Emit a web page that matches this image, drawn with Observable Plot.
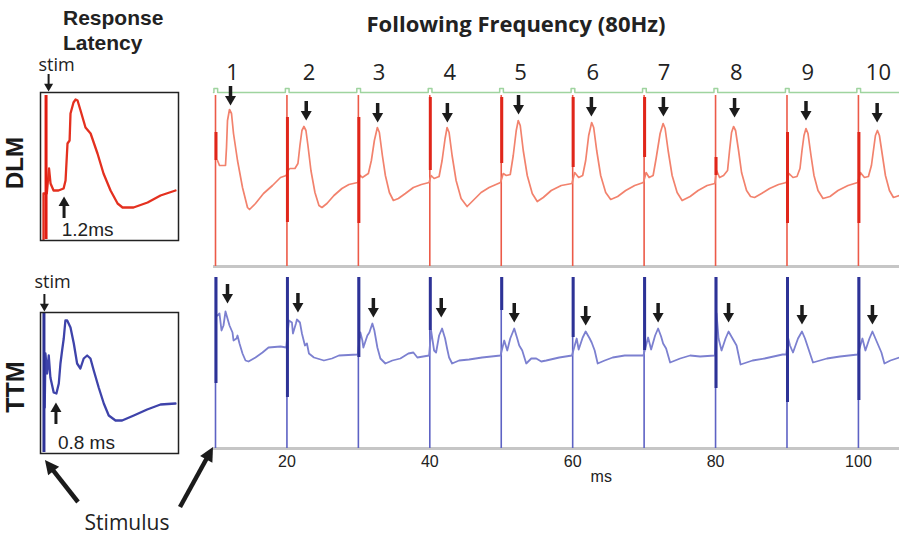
<!DOCTYPE html>
<html><head><meta charset="utf-8">
<script src="https://cdn.jsdelivr.net/npm/d3@7"></script>
<script src="https://cdn.jsdelivr.net/npm/@observablehq/plot@0.6"></script>
<style>
body{margin:0;background:#fff;}
#root{position:relative;width:899px;height:534px;overflow:hidden;font-family:"Liberation Sans",Arial,sans-serif;color:#222;}
.t{position:absolute;white-space:nowrap;line-height:1;}
</style></head><body><div id="root"></div>
<script>
// ---------- data (time in ms, amplitude in arbitrary units) ----------
const stimTimes = [10, 20, 30, 40, 50, 60, 70, 80, 90, 100];
const cycleLabels = ["1","2","3","4","5","6","7","8","9","10"];
const cycleLabelT = [12.4, 23.1, 32.9, 42.8, 52.7, 62.8, 72.8, 82.9, 92.9, 102.8];
const xTicks = [20, 40, 60, 80, 100];

const dlmTrace = [
 [10.28,106],[10.56,101],[11.26,101],[11.40,101],[11.54,119],[11.68,146],[11.96,157],[12.24,153],[12.52,133],[13.08,106],[13.78,79],[14.48,59],[14.76,57],[15.60,63],[16.72,73],[17.98,81],[19.10,89],[19.9,91],
 [20.14,96],[20.42,98],[21.12,98],[21.54,103],[21.82,121],[22.10,136],[22.38,140],[22.66,136],[22.94,121],[23.36,96],[23.92,74],[24.48,61],[24.90,59],[25.60,63],[26.58,71],[27.70,78],[28.68,82],[29.9,84],
 [30.28,91],[30.56,89],[31.40,93],[31.82,106],[32.24,126],[32.66,139],[32.94,134],[33.36,111],[33.78,91],[34.34,74],[34.90,66],[35.60,68],[36.58,73],[37.70,79],[38.82,82],[39.9,84],
 [40.18,91],[40.60,88],[41.30,90],[41.72,106],[42.14,128],[42.42,139],[42.70,134],[43.12,111],[43.68,86],[44.38,68],[45.22,60],[46.06,66],[47.18,74],[48.30,79],[49.9,84],
 [50.28,93],[50.70,91],[51.26,92],[51.68,111],[52.10,136],[52.38,146],[52.66,141],[53.08,116],[53.64,91],[54.34,73],[55.04,65],[55.88,69],[57.00,76],[58.40,81],[59.9,83],
 [60.28,94],[60.84,89],[61.40,91],[61.82,106],[62.24,131],[62.66,144],[62.94,139],[63.36,116],[63.92,91],[64.62,74],[65.32,67],[66.30,70],[67.42,76],[68.68,81],[69.9,84],
 [70.28,94],[70.70,89],[71.26,91],[71.68,108],[72.24,133],[72.66,143],[72.94,138],[73.36,116],[73.92,91],[74.62,74],[75.32,66],[76.44,70],[77.56,76],[78.82,81],[79.9,83],
 [80.14,96],[80.56,89],[81.12,91],[81.68,96],[81.96,116],[82.24,134],[82.52,140],[82.80,136],[83.22,116],[83.64,94],[84.34,76],[84.90,70],[85.46,69],[86.44,73],[87.56,78],[88.82,82],[89.9,84],
 [90.28,93],[90.84,89],[91.40,90],[91.82,98],[92.10,116],[92.38,131],[92.66,138],[92.94,133],[93.36,111],[93.78,91],[94.34,76],[95.04,68],[96.02,70],[97.14,76],[98.54,81],[99.9,84],
 [100.28,94],[100.84,89],[101.40,90],[101.82,101],[102.10,116],[102.38,131],[102.66,136],[102.94,131],[103.36,111],[103.78,91],[104.34,76],[104.90,69],[105.74,71]
];

const ttmTrace = [
 [10.28,133],[10.56,135],[10.84,118],[11.12,123],[11.40,137],[11.68,130],[11.96,123],[12.38,116],[12.52,108],[12.94,110],[13.08,113],[13.36,105],[13.78,95],[14.20,88],[14.62,87],[15.60,91],[16.58,96],[17.42,101],[19.10,102],[19.9,101],
 [20.28,128],[20.70,126],[20.84,115],[21.26,125],[21.40,129],[21.82,126],[22.10,115],[22.52,103],[22.80,105],[23.08,95],[23.78,91],[25.18,88],[26.30,90],[27.28,93],[29.9,94],
 [30.28,116],[30.56,108],[30.70,101],[31.26,113],[31.54,116],[31.96,125],[32.24,118],[32.66,101],[33.08,90],[33.78,85],[34.76,88],[35.88,90],[37.00,95],[37.70,96],[38.26,91],[39.9,93],
 [40.18,118],[40.60,98],[40.88,96],[41.30,113],[41.72,120],[42.14,110],[42.42,100],[42.70,91],[43.12,85],[44.10,88],[45.50,89],[47.32,91],[49.9,93],
 [50.42,108],[50.84,98],[51.26,110],[51.82,120],[52.24,110],[52.52,103],[52.94,98],[53.50,85],[54.20,90],[54.90,90],[55.60,87],[56.30,88],[58.12,91],[59.9,93],
 [60.56,110],[60.84,99],[61.40,111],[61.82,117],[62.38,110],[62.66,106],[63.08,98],[63.50,85],[64.48,88],[65.60,91],[67.28,93],[69.9,93],
 [70.56,111],[70.98,99],[71.54,113],[71.96,120],[72.38,112],[72.66,105],[73.08,100],[73.64,86],[74.34,88],[75.04,90],[76.44,93],[77.84,92],[79.9,93],
 [80.14,135],[80.42,110],[80.84,98],[81.40,110],[81.82,117],[82.38,110],[82.94,103],[83.50,84],[84.34,86],[85.18,88],[86.86,90],[89.38,94],[89.9,94],
 [90.14,111],[90.42,103],[90.84,96],[91.54,110],[92.10,117],[92.52,110],[92.94,101],[93.64,86],[94.62,88],[95.60,90],[97.42,92],[99.9,94],
 [100.56,110],[100.98,98],[101.54,110],[101.96,117],[102.38,110],[102.80,103],[103.22,96],[103.64,85],[104.48,88],[105.74,91]
];

// stimulus artifacts
const artifactTop = 171;
const dlmArtifactLo = [106, 44, 43, 96, 103, 99, 109, 91, 43, 43];
const dlmArtifactHi = [134, 149, 149, 169, 169, 169, 169, 109, 134, 134];
const ttmArtifactLo = [65, 51, 91, 118, 138, 111, 98, 60, 46, 48];
const ttmArtifactHi = [171, 171, 171, 171, 171, 171, 171, 171, 171, 171];
const stimMarkerLevel = 174;

// arrows marking each response peak
const dlmArrowT = [12.1, 22.7, 32.7, 42.46, 52.42, 62.62, 72.7, 82.66, 92.66, 102.62];
const dlmArrowV = [161, 146, 144, 144, 152, 150, 150, 149, 146, 144];
const ttmArrowT = [11.68, 21.54, 32.1, 41.6, 51.82, 61.82, 71.96, 81.82, 92.1, 101.96];
const ttmArrowV = [145, 136, 131, 131, 126, 123, 126, 126, 124, 124];

// response-latency insets (time from stimulus, ms)
const insetDlm = [
 [-0.17,1],[-0.17,47],[0.05,47],[0.2,72],[0.3,57],[0.5,50],[0.83,50],[1.17,52],[1.3,60],[1.43,97],[1.57,100],[1.63,127],[1.83,138],[1.97,141],[2.1,140],[2.3,130],[2.63,113],[2.97,107],[3.43,87],[3.83,67],[4.3,50],[4.77,37],[5.1,33],[5.83,33],[6.77,38],[7.63,45],[8.63,50]
];
const insetTtm = [
 [0.05,46],[0.1,100],[0.21,80],[0.32,98],[0.43,76],[0.65,61],[0.83,60],[0.99,70],[1.1,90],[1.21,103],[1.32,115],[1.43,133],[1.55,133],[1.77,126],[1.99,110],[2.21,90],[2.43,85],[2.65,95],[2.88,98],[3.1,95],[3.32,83],[3.65,66],[3.99,50],[4.32,38],[4.77,33],[5.21,33],[5.99,38],[6.88,44],[7.77,49],[8.77,50]
];
const insetDlmSpikeTop = 145, insetTtmSpikeTop = 140;
const latencyPanels = ["DLM", "TTM"];
const latencyMs = [1.2, 0.8];
const latencyLabels = ["1.2ms", "0.8 ms"];

// ---------- helpers ----------
const root = document.getElementById("root");
function put(el, left, top) {
  el.style.position = "absolute"; el.style.left = left + "px"; el.style.top = top + "px";
  root.appendChild(el); return el;
}
function label(text, x, y, css) {
  const d = document.createElement("div");
  d.className = "t"; d.textContent = text;
  Object.assign(d.style, {left: x + "px", top: y + "px", transform: "translate(-50%,-50%)"}, css || {});
  root.appendChild(d); return d;
}
const INK = "#1b1b1b";
function arrowMarks(tips, dir, {len = 19, W = 11, sw = 3.5} = {}) {
  const h = W * 0.866, c = W * 0.577, r = Math.sqrt(0.433 * W * W / Math.PI);
  return [
    Plot.ruleX(tips, {x: "t", y1: d => d.v - dir * (h - 1), y2: d => d.v - dir * len, stroke: INK, strokeWidth: sw}),
    Plot.dot(tips, {x: "t", y: d => d.v - dir * c, r, symbol: "triangle", fill: INK, stroke: "none", rotate: dir < 0 ? 180 : 0})
  ];
}
const zip = (ts, vs) => ts.map((t, i) => ({t, v: vs[i]}));
const xMain = [9.72, 105.75];

// ---------- main DLM panel ----------
const stimLine = [{t: xMain[0], v: stimMarkerLevel}];
stimTimes.forEach(s => {
  stimLine.push({t: s - 0.22, v: stimMarkerLevel}, {t: s - 0.22, v: stimMarkerLevel + 4},
                {t: s + 0.3, v: stimMarkerLevel + 4}, {t: s + 0.3, v: stimMarkerLevel});
});
stimLine.push({t: xMain[1], v: stimMarkerLevel});

const dlmArt = stimTimes.map((t, i) => ({t, lo: dlmArtifactLo[i], hi: dlmArtifactHi[i]}));
const ttmArt = stimTimes.map((t, i) => ({t, lo: ttmArtifactLo[i], hi: ttmArtifactHi[i]}));

const dlmPlot = Plot.plot({
  width: 694, height: 220, marginLeft: 8, marginRight: 0, marginTop: 6, marginBottom: 4,
  x: {domain: xMain, axis: null}, y: {domain: [0, 210], axis: null},
  style: {background: "transparent", overflow: "visible", fontFamily: "Liberation Sans"},
  marks: [
    Plot.ruleY([0], {stroke: "#c6c6c6", strokeWidth: 3}),
    Plot.line(stimLine, {x: "t", y: "v", stroke: "#9fd49f", strokeWidth: 1.5}),
    Plot.ruleX(stimTimes, {y1: 0, y2: artifactTop, stroke: "#ec5a48", strokeWidth: 1.6}),
    Plot.line(dlmTrace, {x: d => d[0], y: d => d[1], stroke: "#f2826d", strokeWidth: 1.7}),
    Plot.ruleX(dlmArt, {x: "t", y1: "lo", y2: "hi", stroke: "#e0261a", strokeWidth: 3, dx: 0.5}),
    ...arrowMarks(zip(dlmArrowT, dlmArrowV), -1),
    Plot.text(cycleLabels, {x: (d, i) => cycleLabelT[i], y: () => 194, text: d => d, fontSize: 22, fontFamily: "Open Sans", fill: "#222"})
  ]
});
put(dlmPlot, 205, 50);

// ---------- main TTM panel ----------
const ttmPlot = Plot.plot({
  width: 694, height: 226, marginLeft: 8, marginRight: 0, marginTop: 6, marginBottom: 40,
  x: {domain: xMain}, y: {domain: [0, 180], axis: null},
  style: {background: "transparent", overflow: "visible", fontFamily: "Liberation Sans"},
  marks: [
    Plot.ruleY([0], {stroke: "#c6c6c6", strokeWidth: 3}),
    Plot.axisX(xTicks, {tickSize: 0, tickPadding: 7, fontSize: 16, label: null, fill: "#222"}),
    Plot.text(["ms"], {x: () => 64, frameAnchor: "bottom", dy: 33, fontSize: 16, fill: "#222"}),
    Plot.ruleX(stimTimes, {y1: 0, y2: artifactTop, stroke: "#5d62c4", strokeWidth: 1.6}),
    Plot.line(ttmTrace, {x: d => d[0], y: d => d[1], stroke: "#7c80d0", strokeWidth: 1.8}),
    Plot.ruleX(ttmArt, {x: "t", y1: "lo", y2: "hi", stroke: "#2d3296", strokeWidth: 3, dx: 0.5}),
    ...arrowMarks(zip(ttmArrowT, ttmArrowV), -1)
  ]
});
put(ttmPlot, 205, 262);

// ---------- insets ----------
function inset(trace, spikeTop, color, spikeColor, height, marginTop, vmax, xdom, idx, stimText, latText) {
  return Plot.plot({
    width: 160, height, marginLeft: 10, marginRight: 12, marginTop, marginBottom: 5,
    x: {domain: xdom, axis: null}, y: {domain: [0, vmax], axis: null},
    style: {background: "transparent", overflow: "visible", fontFamily: "Liberation Sans"},
    marks: [
      Plot.line(trace, {x: d => d[0], y: d => d[1], stroke: color, strokeWidth: 2.3}),
      Plot.ruleX([0], {y1: 1, y2: spikeTop, stroke: spikeColor, strokeWidth: 3}),
      Plot.frame({stroke: "#222", strokeWidth: 1.5}),
      // "stim" marker above the box
      Plot.text(["stim"], {x: () => stimText.t, y: () => stimText.v, fontSize: 18, fontFamily: "Open Sans", fill: "#222"}),
      ...arrowMarks([{t: stimText.at, v: vmax + 1}], -1, {len: 17, W: 9, sw: 2}),
      // latency marker
      Plot.text([latText.label], {x: () => latText.t, y: () => 11, fontSize: 19, fill: "#222"}),
      ...arrowMarks([{t: latencyMs[idx], v: latText.tip}], 1, {len: 22, W: 11, sw: 3})
    ]
  });
}
const insetD = inset(insetDlm, insetDlmSpikeTop, "#e4301f", "#e01d12", 190, 37, 148, [-0.37, 8.83], 0,
  {t: 0.7, v: 175, at: 0.17}, {label: latencyLabels[0], t: 2.77, tip: 44});
put(insetD, 30, 55);
const insetT = inset(insetTtm, insetTtmSpikeTop, "#3e43aa", "#2d3296", 188, 42, 141, [-0.23, 8.97], 1,
  {t: 0.57, v: 171, at: 0.03}, {label: latencyLabels[1], t: 2.83, tip: 51});
put(insetT, 30, 270);

// ---------- text ----------
label("Following Frequency (80Hz)", 516, 23, {fontFamily: "Open Sans", fontWeight: "bold", fontSize: "22px", color: "#222"});
const rl = document.createElement("div");
rl.className = "t";
rl.innerHTML = "Response<br>Latency";
Object.assign(rl.style, {left: "63px", top: "5px", fontWeight: "bold", fontSize: "21px", lineHeight: "25px", color: "#222"});
root.appendChild(rl);
label("DLM", 15, 163, {fontWeight: "bold", fontSize: "24px", transform: "translate(-50%,-50%) rotate(-90deg)", color: "#1a1a1a"});
label("TTM", 15, 387, {fontWeight: "bold", fontSize: "25px", transform: "translate(-50%,-50%) rotate(-90deg)", color: "#1a1a1a"});
label("Stimulus", 127, 522, {fontFamily: "Open Sans", fontSize: "21px", color: "#222"});

// ---------- "Stimulus" pointer arrows (tips anchored to stimulus time 0 / 10 ms) ----------
const sx1 = insetT.scale("x").apply(0) + 30 + 1.5, sy1 = insetT.scale("y").apply(0) + 270 + 7;
const sx2 = ttmPlot.scale("x").apply(stimTimes[0]) + 205 - 2, sy2 = ttmPlot.scale("y").apply(0) + 262 - 1;
const ov = d3.create("svg").attr("width", 899).attr("height", 534)
  .style("position", "absolute").style("left", "0px").style("top", "0px").style("pointer-events", "none");
function bigArrow(x0, y0, x1, y1) {
  const dx = x1 - x0, dy = y1 - y0, L = Math.hypot(dx, dy), ux = dx / L, uy = dy / L;
  const hl = 14, hw = 7;
  const bx = x1 - ux * hl, by = y1 - uy * hl;
  ov.append("line").attr("x1", x0).attr("y1", y0).attr("x2", bx + ux * 2).attr("y2", by + uy * 2)
    .attr("stroke", INK).attr("stroke-width", 4.5);
  ov.append("polygon").attr("fill", INK)
    .attr("points", `${x1},${y1} ${bx - uy * hw},${by + ux * hw} ${bx + uy * hw},${by - ux * hw}`);
}
bigArrow(78, 502, sx1, sy1);
bigArrow(180, 507, sx2, sy2);
root.appendChild(ov.node());
</script></body></html>
